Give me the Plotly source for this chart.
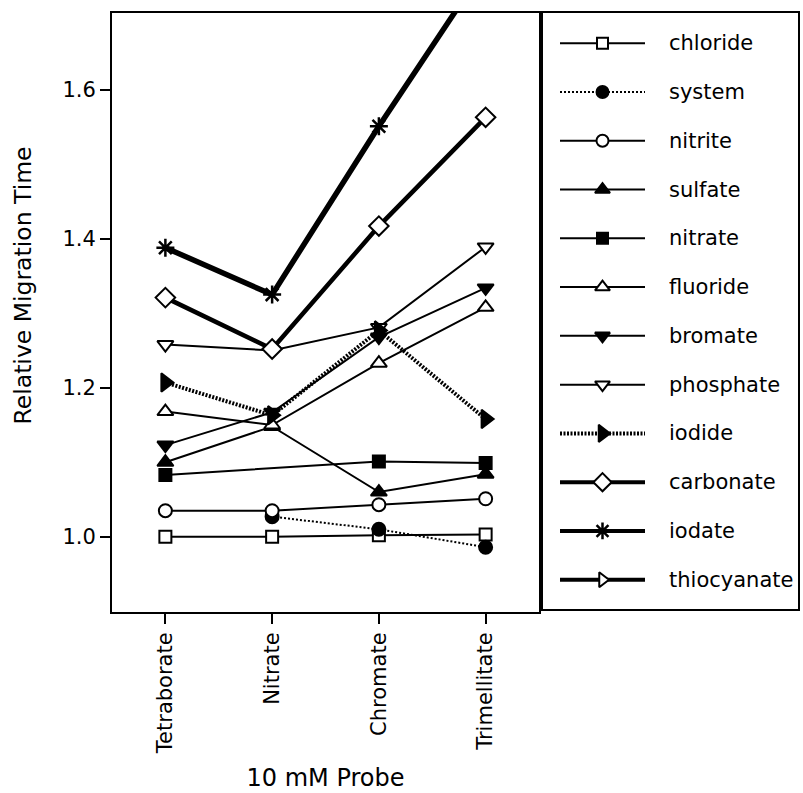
import plotly.graph_objects as go

# ---------------- data ----------------
probes = ["Tetraborate", "Nitrate", "Chromate", "Trimellitate"]
analytes = ["chloride", "system", "nitrite", "sulfate", "nitrate", "fluoride",
            "bromate", "phosphate", "iodide", "carbonate", "iodate", "thiocyanate"]

chloride = [1.000, 1.000, 1.002, 1.003]
system = [None, 1.027, 1.010, 0.986]
nitrite = [1.035, 1.035, 1.043, 1.051]
sulfate = [1.100, 1.148, 1.060, 1.084]
nitrate = [1.083, None, 1.101, 1.099]
fluoride = [1.168, 1.150, 1.233, 1.308]
bromate = [1.123, 1.167, 1.268, 1.334]
phosphate = [1.258, 1.250, 1.281, 1.389]
iodide = [1.207, 1.163, 1.277, 1.158]
carbonate = [1.321, 1.252, 1.417, 1.563]
iodate = [1.388, 1.325, 1.551, 1.766]
thiocyanate = [None, None, None, None]

values = [chloride, system, nitrite, sulfate, nitrate, fluoride,
          bromate, phosphate, iodide, carbonate, iodate, thiocyanate]

y_ticks = [1.0, 1.2, 1.4, 1.6]

# ---------------- styles ----------------
FONT = "DejaVu Sans"
BLACK = "black"
styles = {
    "chloride":    dict(symbol="square", fill="white", size=12, lw=2, dash="solid"),
    "system":      dict(symbol="circle", fill=BLACK, size=13, lw=2, dash="2px,2px"),
    "nitrite":     dict(symbol="circle", fill="white", size=13, lw=2, dash="solid"),
    "sulfate":     dict(symbol="triangle-up", fill=BLACK, size=14, lw=2, dash="solid"),
    "nitrate":     dict(symbol="square", fill=BLACK, size=12, lw=2, dash="solid"),
    "fluoride":    dict(symbol="triangle-up", fill="white", size=14, lw=2, dash="solid"),
    "bromate":     dict(symbol="triangle-down", fill=BLACK, size=14, lw=2, dash="solid"),
    "phosphate":   dict(symbol="triangle-down", fill="white", size=14, lw=2, dash="solid"),
    "iodide":      dict(symbol="triangle-right", fill=BLACK, size=16, lw=4, dash="2px,1.5px"),
    "carbonate":   dict(symbol="diamond", fill="white", size=15, lw=4.5, dash="solid"),
    "iodate":      dict(symbol="asterisk-open", fill=BLACK, size=15, lw=5.5, dash="solid"),
    "thiocyanate": dict(symbol="triangle-right", fill="white", size=14, lw=4, dash="solid"),
}

fig = go.Figure()

# main traces
for name, vals in zip(analytes, values):
    s = styles[name]
    fig.add_trace(go.Scatter(
        x=probes, y=vals, name=name, mode="lines+markers",
        connectgaps=True, showlegend=False,
        line=dict(color=BLACK, width=s["lw"], dash=s["dash"]),
        marker=dict(symbol=s["symbol"], size=s["size"], color=s["fill"],
                    line=dict(color=BLACK, width=2.5 if "asterisk" in s["symbol"] else 2)),
        xaxis="x", yaxis="y",
    ))

# legend drawn in its own framed axes
LEG_LINE = (17, 102)
LEG_MARK = 59.5
LEG_TEXT = 124
for i, name in enumerate(analytes):
    s = styles[name]
    fig.add_trace(go.Scatter(
        x=list(LEG_LINE), y=[i, i], mode="lines", showlegend=False, hoverinfo="skip",
        line=dict(color=BLACK, width=min(s["lw"], 4), dash=s["dash"]),
        xaxis="x2", yaxis="y2",
    ))
    fig.add_trace(go.Scatter(
        x=[LEG_MARK], y=[i], mode="markers", showlegend=False, hoverinfo="skip",
        marker=dict(symbol=s["symbol"], size=s["size"] - 1, color=s["fill"],
                    line=dict(color=BLACK, width=2.5 if "asterisk" in s["symbol"] else 2)),
        xaxis="x2", yaxis="y2",
    ))
    fig.add_annotation(x=LEG_TEXT, y=i, xref="x2", yref="y2", text=name,
                       showarrow=False, xanchor="left", yanchor="middle",
                       font=dict(family=FONT, size=21, color=BLACK))

W, H = 803, 793
ML, MR, MT, MB = 112, 5, 13, 181
pw = W - ML - MR
ph = H - MT - MB
main_right = (539 - ML) / pw
leg_left = (543 - ML) / pw

# y-axis title (placed as in the reference, slightly above the plot centre)
fig.add_annotation(x=(22 - ML) / pw, y=(612 - 285.5) / ph, xref="paper", yref="paper",
                   text="Relative Migration Time", textangle=-90, showarrow=False,
                   xanchor="center", yanchor="middle",
                   font=dict(family=FONT, size=23.5, color=BLACK))

fig.update_layout(
    width=W, height=H,
    margin=dict(l=ML, r=MR, t=MT, b=MB, autoexpand=False),
    paper_bgcolor="white", plot_bgcolor="white",
    font=dict(family=FONT, size=21, color=BLACK),
    xaxis=dict(
        domain=[0, main_right], type="category", range=[-0.5, 3.5], automargin=False,
        showgrid=False, zeroline=False, showline=True, linecolor=BLACK, linewidth=2,
        mirror=True, ticks="outside", ticklen=10, tickwidth=2, tickcolor=BLACK,
        tickangle=-90, tickfont=dict(family=FONT, size=21),
        title=dict(text="10 mM Probe", font=dict(family=FONT, size=24), standoff=16),
    ),
    yaxis=dict(
        domain=[0, 1], range=[0.899, 1.703], tickvals=y_ticks, automargin=False,
        ticktext=[f"{v:.1f}" for v in y_ticks],
        showgrid=False, zeroline=False, showline=True, linecolor=BLACK, linewidth=2,
        mirror=True, ticks="outside", ticklen=10, tickwidth=2, tickcolor=BLACK,
        tickfont=dict(family=FONT, size=21),
    ),
    xaxis2=dict(
        domain=[leg_left, 1], range=[0, 255], anchor="y2", automargin=False,
        showgrid=False, zeroline=False, showticklabels=False, ticks="",
        showline=True, linecolor=BLACK, linewidth=2, mirror=True, fixedrange=True,
    ),
    yaxis2=dict(
        domain=[3 / ph, 1], range=[11.6, -0.62], anchor="x2", automargin=False,
        showgrid=False, zeroline=False, showticklabels=False, ticks="",
        showline=True, linecolor=BLACK, linewidth=2, mirror=True, fixedrange=True,
    ),
)

fig.write_html("out.html")
